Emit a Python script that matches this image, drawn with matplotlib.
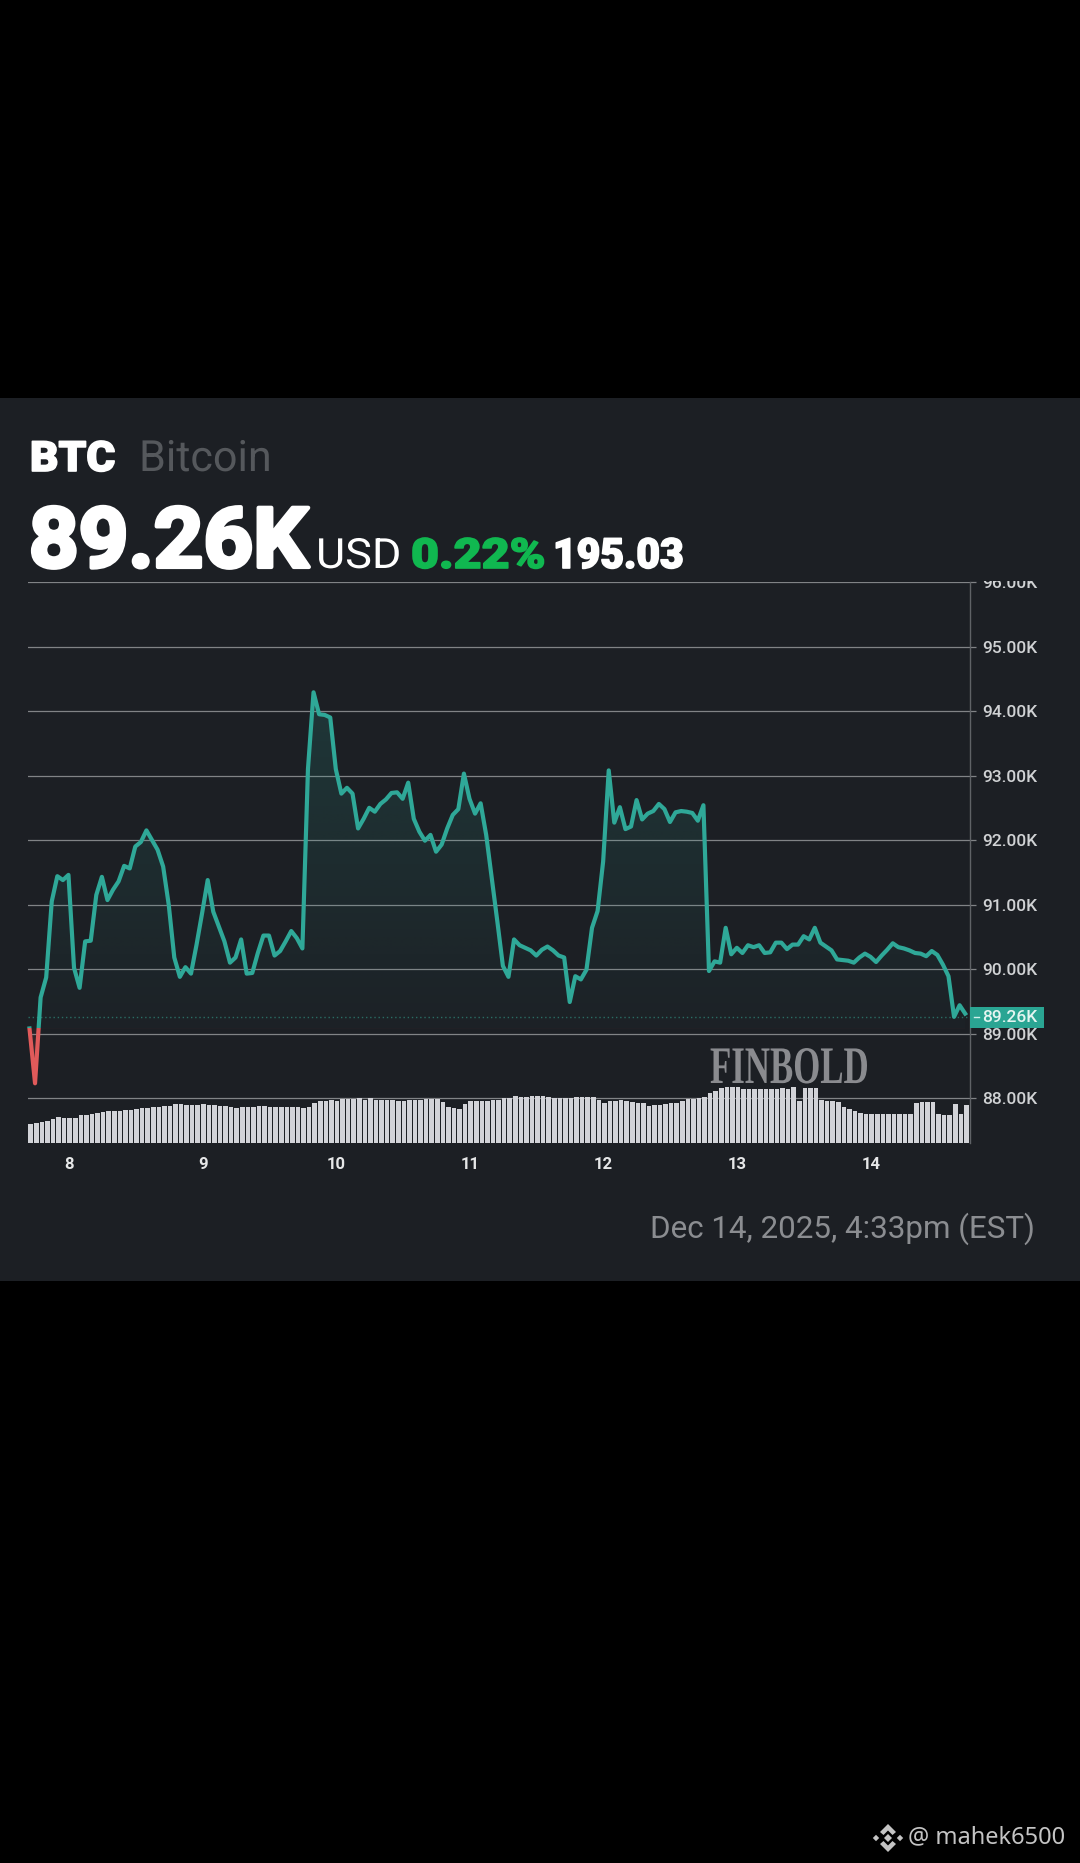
import numpy as np
import matplotlib
matplotlib.use('Agg')
from matplotlib import pyplot as plt
from matplotlib.colors import to_rgb
from matplotlib.patches import Rectangle, Polygon
from matplotlib.patheffects import AbstractPathEffect
from matplotlib.transforms import Affine2D, Bbox

# hourly close in thousands of USD
prices = [
    89.08, 88.23, 89.56, 89.87, 91.05, 91.44, 91.38, 91.46, 90.02, 89.71, 90.43, 90.44, 91.15,
    91.43, 91.07, 91.23, 91.36, 91.60, 91.56, 91.90, 91.97, 92.15, 92.00, 91.85, 91.59, 91.00,
    90.18, 89.88, 90.03, 89.93, 90.38, 90.87, 91.38, 90.89, 90.66, 90.43, 90.10, 90.18, 90.46,
    89.93, 89.94, 90.25, 90.52, 90.52, 90.21, 90.28, 90.43, 90.59, 90.48, 90.32, 93.10, 94.29,
    93.95, 93.94, 93.90, 93.10, 92.72, 92.81, 92.72, 92.18, 92.33, 92.50, 92.44, 92.56, 92.63,
    92.73, 92.74, 92.64, 92.89, 92.33, 92.13, 91.99, 92.08, 91.82, 91.93, 92.18, 92.39, 92.48,
    93.03, 92.64, 92.41, 92.57, 92.08, 91.41, 90.74, 90.05, 89.88, 90.46, 90.37, 90.33, 90.29,
    90.21, 90.30, 90.35, 90.29, 90.21, 90.18, 89.49, 89.89, 89.84, 89.99, 90.64, 90.90, 91.67,
    93.08, 92.27, 92.51, 92.17, 92.21, 92.62, 92.32, 92.41, 92.45, 92.56, 92.48, 92.28, 92.43,
    92.45, 92.44, 92.42, 92.30, 92.54, 89.97, 90.12, 90.10, 90.64, 90.23, 90.33, 90.25, 90.37,
    90.34, 90.37, 90.25, 90.26, 90.41, 90.41, 90.31, 90.38, 90.38, 90.51, 90.46, 90.64, 90.41,
    90.35, 90.29, 90.15, 90.14, 90.13, 90.10, 90.18, 90.24, 90.19, 90.11, 90.21, 90.30, 90.40,
    90.34, 90.32, 90.29, 90.25, 90.24, 90.20, 90.28, 90.22, 90.07, 89.89, 89.26, 89.44, 89.31,
]
# volume bars, arbitrary units
volumes = [
    57, 60, 64, 68, 73, 80, 77, 77, 77, 85, 85, 89, 92, 94, 97, 97, 98, 101, 101, 103, 105, 106,
    109, 110, 113, 113, 118, 118, 116, 116, 115, 118, 116, 114, 113, 111, 108, 106, 110, 110, 110,
    113, 111, 110, 108, 110, 110, 110, 110, 107, 108, 121, 127, 128, 130, 127, 134, 134, 134, 136,
    130, 136, 131, 131, 130, 130, 126, 126, 130, 130, 130, 134, 134, 134, 124, 109, 107, 104, 118,
    127, 128, 128, 128, 131, 131, 135, 136, 142, 138, 139, 142, 142, 142, 138, 136, 136, 136, 136,
    138, 140, 140, 140, 130, 122, 128, 128, 129, 127, 125, 122, 120, 112, 114, 116, 118, 121, 122,
    126, 134, 134, 137, 140, 150, 158, 165, 168, 170, 170, 164, 163, 163, 163, 163, 163, 163, 166,
    163, 170, 127, 166, 166, 166, 130, 128, 126, 124, 108, 102, 98, 91, 89, 89, 89, 89, 89, 89,
    89, 89, 89, 122, 125, 125, 125, 89, 85, 84, 118, 89, 115,
]
day_ticks = [8, 9, 10, 11, 12, 13, 14]
price_ticks = [88, 89, 90, 91, 92, 93, 94, 95, 96]
last_price = 89.26

W, H = 1080, 1863
BLACK = '#000000'
PANEL = '#1c1f24'
TEAL = '#2fa898'
RED = '#e05a5a'
GRID = '#818386'
SANS = 'Roboto'


class Squeeze(AbstractPathEffect):
    # headline font is wider and heavier than Roboto, watermark much narrower than any serif
    def __init__(self, sx, stroke=0):
        super().__init__()
        self.sx = sx
        self.stroke = stroke

    def draw_path(self, renderer, gc, tpath, affine, rgbFace=None):
        gc0 = renderer.new_gc()
        gc0.copy_properties(gc)
        gc0.set_linewidth(self.stroke)
        if self.stroke:
            gc0.set_foreground(rgbFace)
        renderer.draw_path(gc0, tpath, Affine2D().scale(self.sx, 1) + affine, rgbFace)
        gc0.restore()


def px_axes(zorder):
    a = fig.add_axes([0, 0, 1, 1], zorder=zorder)
    a.set_xlim(0, W)
    a.set_ylim(H, 0)
    a.axis('off')
    a.patch.set_alpha(0)
    return a


def gradient(color, a_top, a_bottom, y0, y1, clip):
    grad = np.zeros((128, 2, 4))
    grad[..., :3] = to_rgb(color)
    grad[..., 3] = np.linspace(a_top, a_bottom, 128)[:, None]
    im = ax.imshow(grad, extent=(hours[0], hours[-1], y0, y1), aspect='auto', zorder=1.5,
                   origin='upper', interpolation='bilinear')
    im.set_clip_path(clip, transform=ax.transData)


fig = plt.figure(figsize=(W / 100, H / 100), dpi=100, facecolor=BLACK)

back = px_axes(0)
back.add_patch(Rectangle((0, 398), W, 883, facecolor=PANEL, edgecolor='none'))

# price chart
left, right, top, bottom = 28, 970, 582, 1143.3
rect = [left / W, 1 - bottom / H, (right - left) / W, (bottom - top) / H]
ax = fig.add_axes(rect, zorder=1)
ax.patch.set_alpha(0)

hours = 7.704 + np.arange(len(prices)) / 24
base = prices[0]

ax.grid(axis='y', color=GRID, lw=0.9, zorder=1)
ax.set_axisbelow(True)

fill = ax.fill_between(hours, prices, base, facecolor='none', edgecolor='none')
clip_path = fill.get_paths()[0]
gradient(TEAL, 0.18, 0.02, base, 94.3, clip_path)
gradient(RED, 0.05, 0.35, 88.2, base, clip_path)

xlim = (7.693, 14.740)
up = ax.plot(hours, prices, color=TEAL, lw=3, zorder=3, solid_joinstyle='round')[0]
down = ax.plot(hours, prices, color=RED, lw=3, zorder=3, solid_joinstyle='round')[0]
up.set_clip_path(Rectangle((7, base), 9, 10, transform=ax.transData))
down.set_clip_path(Rectangle((7, 80), 9, base - 80, transform=ax.transData))
ax.axhline(last_price, color='#2a6d64', lw=1, ls=(0, (1, 2)), zorder=2)

ax.set_xlim(*xlim)
ax.set_ylim(87.30, 96)
ax.set_yticks(price_ticks)
ax.set_yticklabels([f'{t:.2f}K' for t in price_ticks], fontfamily=SANS, fontsize=12.5,
                   fontweight='medium', color='#d0d2d4')
ax.yaxis.tick_right()
ax.tick_params(axis='y', length=4, width=0.9, color=GRID, pad=5)
ax.set_xticks(day_ticks)
ax.set_xticklabels([str(d) for d in day_ticks], fontfamily=SANS, fontsize=12, fontweight='bold',
                   color='#e6e7e8')
ax.tick_params(axis='x', length=0, pad=10)
for side in ['top', 'left', 'bottom']:
    ax.spines[side].set_visible(False)
ax.spines['right'].set_color('#5f6266')
ax.spines['right'].set_linewidth(1)

# top label is cut off by the chart edge
ax.get_yticklabels()[-1].set_clip_on(True)
ax.get_yticklabels()[-1].set_clip_box(Bbox([[970, 0], [1080, H - 581]]))

# volume
vol = fig.add_axes(rect, zorder=1.2)
vol.set_ylim(0, (bottom - top) * 3)
vol.bar(hours - 0.008, volumes, width=0.82 / 24, align='edge', color='#d2d3d8', linewidth=0)
vol.set_xlim(*xlim)
vol.axis('off')
vol.patch.set_alpha(0)

# overlay
over = px_axes(2)
over.add_patch(Rectangle((970, 1007), 74, 21, facecolor='#2aa593', edgecolor='none', zorder=2))
over.plot([974, 979], [1017, 1017], color='#d0f0ea', lw=1, zorder=3)
over.text(982.5, 1017.5, '89.26K', fontfamily=SANS, fontsize=12.5, fontweight='medium',
          color='#e4f5f1', va='center', zorder=3)

over.text(30, 471, 'BTC', fontfamily=SANS, fontsize=30, fontweight='black', color='white',
          va='baseline', path_effects=[Squeeze(1.06, 1.2)])
over.text(139, 471, 'Bitcoin', fontfamily=SANS, fontsize=31, color='#55585c', va='baseline',
          path_effects=[Squeeze(1.0)])
over.text(29, 567, '89.26K', fontfamily=SANS, fontsize=60, fontweight='bold', color='white',
          va='baseline', path_effects=[Squeeze(1.04, 3)])
over.text(316, 568, 'USD', fontfamily=SANS, fontsize=30, color='white', va='baseline',
          path_effects=[Squeeze(1.08)])
over.text(411, 568, '0.22%', fontfamily=SANS, fontsize=30, fontweight='black', color='#10b850',
          va='baseline', path_effects=[Squeeze(1.16, 1.2)])
over.text(553, 568, '195.03', fontfamily=SANS, fontsize=30, fontweight='black', color='white',
          va='baseline', path_effects=[Squeeze(0.98, 1.2)])
over.text(650, 1238, 'Dec 14, 2025, 4:33pm (EST)', fontfamily=SANS, fontsize=22.6, color='#8b8d91',
          va='baseline')

over.text(710, 1083, 'FINBOLD', fontfamily='Liberation Serif', fontsize=38, fontweight='bold',
          color='#8a8b8f', va='baseline', path_effects=[Squeeze(0.66)])

# footer
over.text(908, 1837, '@ mahek6500', fontfamily='Noto Sans', fontsize=17, color='#c4c4c4', va='center')
for dx, dy, r in [(0, 0, 4), (-12, 0, 3.2), (12, 0, 3.2)]:
    over.add_patch(Polygon([(888 + dx, 1838 + dy - r), (888 + dx + r, 1838 + dy),
                            (888 + dx, 1838 + dy + r), (888 + dx - r, 1838 + dy)],
                           facecolor='#c4c4c4', edgecolor='none'))
for s in [1, -1]:
    over.add_patch(Polygon([(888, 1838 - s * 14), (896, 1838 - s * 6), (892.5, 1838 - s * 3),
                            (888, 1838 - s * 7.5), (883.5, 1838 - s * 3), (880, 1838 - s * 6)],
                           facecolor='#c4c4c4', edgecolor='none'))

fig.savefig('out.png', dpi=100, facecolor=BLACK)
